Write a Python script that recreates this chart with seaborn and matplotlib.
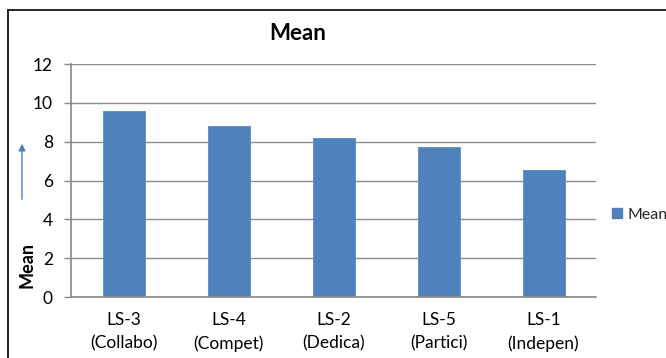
import matplotlib
matplotlib.use("Agg")
import matplotlib.pyplot as plt
import seaborn as sns
import pandas as pd
from matplotlib.lines import Line2D
from matplotlib.patches import FancyArrowPatch, Patch

categories = ["LS-3\n(Collabo)", "LS-4\n(Compet)", "LS-2\n(Dedica)", "LS-5\n(Partici)", "LS-1\n(Indepen)"]
means = [9.57, 8.83, 8.21, 7.75, 6.55]
yticks = [0, 2, 4, 6, 8, 10, 12]

df = pd.DataFrame({"style": categories, "Mean": means})

sns.set_theme(style="white")
plt.rcParams["font.family"] = ["Lato", "DejaVu Sans"]

W, H = 666, 358
fig = plt.figure(figsize=(W / 100, H / 100), dpi=100)
ax = fig.add_axes([71 / W, 1 - 297 / H, (596 - 71) / W, (297 - 64) / H])

bar_color = "#4F81BD"
sns.barplot(data=df, x="style", y="Mean", color=bar_color, width=0.4,
            saturation=1, ax=ax, edgecolor="#5B8BC6", linewidth=0.6)

ax.set_ylim(0, 12)
ax.set_xlim(-0.5, len(categories) - 0.5)
ax.set_yticks(yticks)
ax.set_yticklabels([str(t) for t in yticks], fontsize=12.5, color="#000000")
ax.tick_params(axis="x", labelsize=12.5, pad=11, length=0, colors="#000000")
ax.tick_params(axis="y", length=5, width=1, color="#888888", pad=8, left=True)
ax.yaxis.grid(True, color="#8C8C8C", linewidth=1)
ax.set_axisbelow(True)
for side in ["top", "right"]:
    ax.spines[side].set_visible(False)
ax.spines["left"].set_color("#8C8C8C")
ax.spines["bottom"].set_color("#8C8C8C")
ax.set_xlabel("")
ax.set_ylabel("")
for lbl in ax.get_xticklabels():
    lbl.set_linespacing(1.5)

# Title and vertical axis label
fig.text(298 / W, 1 - 33 / H, "Mean", ha="center", va="center",
         fontsize=16, fontweight="bold", color="#000000")
fig.text(27 / W, 1 - 265 / H, "Mean", ha="center", va="center",
         rotation=90, fontsize=13, fontweight="bold", color="#000000")
arrow = FancyArrowPatch((22 / W, 1 - 202 / H), (22 / W, 1 - 141 / H),
                        transform=fig.transFigure, arrowstyle="-|>",
                        mutation_scale=10, color="#4A7EBB", linewidth=1)
fig.patches.append(arrow)

# Legend
handle = Patch(facecolor=bar_color, edgecolor=bar_color)
fig.legend([handle], ["Mean"], loc="center left", bbox_to_anchor=(612 / W, 1 - 215 / H),
           frameon=False, fontsize=11.5, handlelength=0.6, handleheight=0.6,
           handletextpad=0.35, borderpad=0, borderaxespad=0)

# Chart frame
fig.add_artist(Line2D([8 / W, 1], [1 - 10 / H, 1 - 10 / H], transform=fig.transFigure,
                      color="#000000", linewidth=1.2))
fig.add_artist(Line2D([8 / W, 8 / W], [0, 1 - 10 / H], transform=fig.transFigure,
                      color="#000000", linewidth=1.2))

fig.savefig("out.png", dpi=100)
